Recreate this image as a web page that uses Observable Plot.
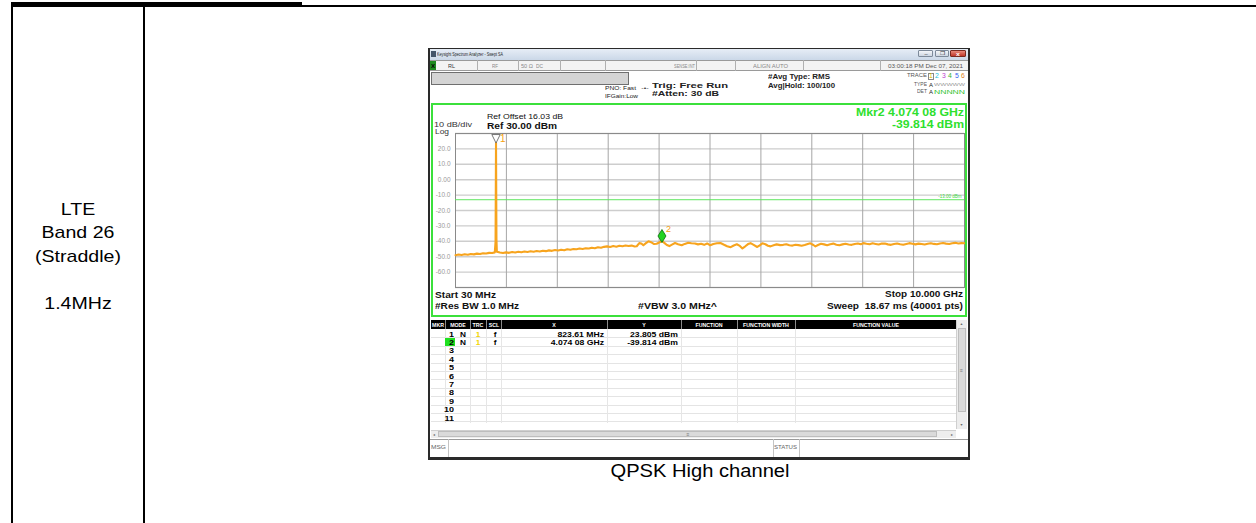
<!DOCTYPE html>
<html><head><meta charset="utf-8">
<script src="https://cdn.jsdelivr.net/npm/d3@7"></script>
<script src="https://cdn.jsdelivr.net/npm/@observablehq/plot@0.6"></script>
<style>
html,body{margin:0;padding:0;background:#fff;}
#page{position:relative;width:1256px;height:523px;overflow:hidden;background:#fff;}
</style></head>
<body><div id="page"></div>
<script>
// ---------------- data ----------------
const cellLines = ["LTE", "Band 26", "(Straddle)", "", "1.4MHz"];
const captionText = "QPSK High channel";
const startGHz = 0.03, stopGHz = 10.0;
const refDBm = 30, bottomDBm = -70;
const yDivs = [30, 20, 10, 0, -10, -20, -30, -40, -50, -60, -70];
const yTickValues = [20, 10, 0, -10, -20, -30, -40, -50, -60];
const yTickText = ["20.0", "10.0", "0.00", "-10.0", "-20.0", "-30.0", "-40.0", "-50.0", "-60.0"];
const xDivs = [0.03, 1.027, 2.024, 3.021, 4.018, 5.015, 6.012, 7.009, 8.006, 9.003, 10.0];
const displayLineDBm = -13;
const displayLineText = "-13.00 dBm";
const traceGHz = [0.03,0.09,0.15,0.21,0.27,0.33,0.39,0.45,0.51,0.57,0.63,0.69,0.75,0.80,0.815,0.82361,0.832,0.84,
 0.90,0.96,1.02,1.08,1.14,1.20,1.26,1.32,1.38,1.44,1.50,1.56,1.62,1.68,1.74,1.80,1.86,1.92,1.98,2.04,2.10,2.16,2.22,2.28,2.34,2.40,2.46,2.52,2.58,2.64,2.70,2.76,2.82,2.88,2.94,3.00,3.06,3.12,3.18,3.24,3.30,3.36,3.42,3.48,3.54,3.58,3.63,3.67,3.71,3.76,3.81,3.86,3.92,3.97,4.02,4.074,4.12,4.17,4.22,4.27,4.33,4.39,4.46,4.52,4.59,4.65,4.72,4.78,4.84,4.90,4.96,5.02,5.08,5.15,5.22,5.28,5.35,5.42,5.48,5.54,5.60,5.65,5.70,5.76,5.81,5.87,5.94,5.99,6.04,6.10,6.15,6.20,6.26,6.32,6.39,6.45,6.51,6.57,6.63,6.69,6.75,6.81,6.87,6.93,6.98,7.04,7.08,7.13,7.19,7.25,7.31,7.37,7.43,7.49,7.55,7.61,7.67,7.73,7.79,7.85,7.91,7.97,8.02,8.08,8.14,8.20,8.26,8.32,8.38,8.44,8.50,8.56,8.62,8.68,8.74,8.80,8.86,8.92,8.98,9.04,9.10,9.16,9.22,9.28,9.34,9.40,9.46,9.52,9.58,9.64,9.70,9.76,9.82,9.88,9.94,10.00];
const traceDBm = [-49.0,-48.6,-48.9,-48.4,-48.7,-48.2,-48.5,-48.0,-48.3,-47.8,-47.9,-47.5,-47.6,-47.2,-40.0,23.805,-38.5,-46.8,
 -47.3,-47.6,-47.2,-47.5,-47.0,-47.3,-46.8,-47.1,-46.6,-46.9,-46.5,-46.8,-46.3,-46.6,-46.1,-46.4,-45.9,-46.2,-45.7,-46.0,-45.5,-45.8,-45.2,-45.5,-45.0,-45.2,-44.7,-45.0,-44.5,-44.7,-44.2,-44.5,-43.9,-44.2,-43.6,-43.3,-43.7,-43.1,-43.5,-42.9,-43.2,-42.7,-43.0,-42.8,-43.4,-43.2,-41.2,-41.4,-42.6,-41.2,-40.0,-40.6,-41.8,-41.6,-40.8,-39.814,-41.0,-42.4,-43.1,-42.2,-41.1,-41.9,-42.6,-41.7,-40.9,-41.3,-41.4,-42.0,-41.6,-42.3,-41.4,-42.6,-41.8,-41.3,-41.1,-42.1,-43.2,-43.8,-42.7,-41.9,-43.0,-44.6,-43.4,-41.8,-41.2,-42.3,-43.7,-42.6,-41.3,-41.9,-42.9,-43.3,-42.6,-42.0,-42.5,-42.3,-41.9,-42.6,-42.8,-42.2,-42.5,-42.9,-42.4,-41.8,-41.3,-42.4,-43.3,-42.4,-41.6,-42.0,-42.5,-41.9,-41.5,-42.2,-42.6,-42.0,-41.6,-42.1,-42.3,-41.7,-41.4,-41.9,-41.2,-41.6,-41.9,-41.3,-41.7,-42.1,-41.5,-41.4,-42.0,-42.3,-41.8,-41.4,-41.9,-42.2,-41.7,-41.2,-41.6,-42.0,-41.5,-41.8,-42.1,-41.6,-41.3,-41.7,-41.9,-41.4,-41.1,-41.5,-41.8,-41.3,-41.0,-41.4,-41.2,-41.3];
const markerGHz = [0.82361, 4.07408];
const markerDBm = [23.805, -39.814];
const markerNames = ["1", "2"];
const markerMode = ["N", "N"];
const markerTrace = ["1", "1"];
const markerScale = ["f", "f"];
const markerXText = ["823.61 MHz", "4.074 08 GHz"];
const markerYText = ["23.805 dBm", "-39.814 dBm"];
const tableRows = ["1","2","3","4","5","6","7","8","9","10","11"];
const headerCols = ["MKR","MODE","TRC","SCL","X","Y","FUNCTION","FUNCTION WIDTH","FUNCTION VALUE"];
const traceNums = ["1","2","3","4","5","6"];
const traceNumColors = ["#d8b800","#18c0e0","#c040d0","#30b030","#3060f0","#e08020"];

// ---------------- helpers ----------------
const W = document.getElementById("page");
const FONT = "'Liberation Sans', Arial, sans-serif";
function el(css, text) {
  const e = document.createElement("div");
  e.style.cssText = "position:absolute;" + css;
  if (text != null) e.textContent = text;
  W.appendChild(e);
  return e;
}
function rect(x, y, w, h, css = "") {
  return el(`left:${x}px;top:${y}px;width:${w}px;height:${h}px;box-sizing:border-box;${css}`);
}
function txt(x, base, s, size, o = {}) {
  const anchor = o.anchor || "start", weight = o.weight || "normal", color = o.color || "#000";
  let pos, origin, align;
  if (anchor === "start") { pos = `left:${x}px;`; origin = "0 0"; align = "left"; }
  else if (anchor === "end") { pos = `left:${x - 1000}px;width:1000px;`; origin = "100% 0"; align = "right"; }
  else { pos = `left:${x - 500}px;width:1000px;`; origin = "50% 0"; align = "center"; }
  const e = el(`${pos}top:${base - 0.8465 * size}px;font-family:${FONT};font-size:${size}px;font-weight:${weight};line-height:1;white-space:nowrap;color:${color};text-align:${align};${o.css || ""}`);
  const sp = document.createElement("span");
  sp.textContent = s;
  e.appendChild(sp);
  let sx = o.sx ?? 1.15;
  if (o.w) { const nat = sp.getBoundingClientRect().width; if (nat > 0) sx = o.w / nat; }
  e.style.transform = `scaleX(${sx})`;
  e.style.transformOrigin = origin;
  return e;
}

// ---------------- document table ----------------
rect(11, 2, 291, 5, "background:#000;");
rect(301, 5, 955, 2, "background:#000;");
rect(11, 2, 2, 521, "background:#000;");
rect(143, 6, 2, 517, "background:#000;");
const cellBase = [215, 238.5, 262, 285.5, 309];
cellLines.forEach((s, i) => { if (s) txt(78, cellBase[i], s, 17, {anchor: "middle"}); });
txt(700, 478, captionText, 17.5, {anchor: "middle"});

// ---------------- analyzer window ----------------
rect(428, 48, 542, 412, "background:#fff;border-left:2px solid #2a2a2a;border-right:2px solid #2a2a2a;border-top:1px solid #2a2a2a;border-bottom:3px solid #2a2a2a;");
rect(430, 49, 538, 11, "background:linear-gradient(#e6edf6,#cbd8e8);");
rect(431, 51, 5, 6, "background:#44556a;");
txt(437, 56.3, "Keysight Spectrum Analyzer - Swept SA", 5, {w: 66, color: "#222"});
rect(918, 50, 15, 7, "background:linear-gradient(#f4f6f9,#cdd6e2);border:1px solid #7d8a9a;border-radius:1px;");
rect(935, 50, 14, 7, "background:linear-gradient(#f4f6f9,#cdd6e2);border:1px solid #7d8a9a;border-radius:1px;");
rect(950, 50, 16, 7, "background:linear-gradient(#e88a7c,#c0382a);border:1px solid #7a2a20;border-radius:1px;");
txt(925.5, 56, "–", 5, {anchor: "middle", color: "#333"});
txt(942, 56, "❐", 4.5, {anchor: "middle", color: "#333"});
txt(958, 56.3, "x", 6, {anchor: "middle", color: "#fff", weight: "bold"});
// status row
rect(430, 60, 538, 11, "background:#f3f3f3;border-top:1px solid #9a9a9a;border-bottom:1px solid #9a9a9a;");
[477, 518, 560, 605, 696, 735, 803, 880].forEach(x => rect(x, 60, 1, 11, "background:#b0b0b0;"));
rect(430, 61, 6, 9, "background:#1e8a1e;");
txt(433, 68.5, "X", 6, {anchor: "middle", weight: "bold", sx: 1});
txt(448, 68.5, "RL", 5.3, {w: 7, color: "#333"});
txt(492, 68.5, "RF", 5, {w: 6, color: "#888"});
txt(521, 68.5, "50 Ω", 5, {w: 12, color: "#888"});
txt(536, 68.5, "DC", 5, {w: 7, color: "#888"});
txt(674, 68.5, "SENSE:INT", 5, {w: 21, color: "#888"});
txt(753, 68.5, "ALIGN AUTO", 5, {w: 35, color: "#888"});
txt(963, 68.5, "03:00:18 PM Dec 07, 2021", 5, {anchor: "end", w: 75, color: "#555"});
// info row
rect(431, 72, 198, 13, "background:#d4d4d4;border:1px solid #6f6f6f;");
txt(605, 91, "PNO: Fast", 5.8, {w: 31, color: "#222"});
txt(605, 99, "IFGain:Low", 5.8, {w: 33, color: "#222"});
txt(645, 90.5, "-•-", 6, {anchor: "middle", color: "#333", sx: 1.2});
txt(652, 88, "Trig: Free Run", 7, {w: 76, weight: "bold", color: "#222"});
txt(652, 95.5, "#Atten: 30 dB", 7, {w: 67, weight: "bold", color: "#222"});
txt(768, 78.5, "#Avg Type: RMS", 7, {w: 62, weight: "bold", color: "#222"});
txt(768, 87.5, "Avg|Hold: 100/100", 7, {w: 67, weight: "bold", color: "#222"});
txt(927, 78, "TRACE", 4.5, {anchor: "end", w: 20, color: "#555"});
txt(927, 87, "TYPE", 4.5, {anchor: "end", w: 13, color: "#555"});
txt(927, 94, "DET", 4.5, {anchor: "end", w: 10, color: "#555"});
rect(928, 72.5, 6, 7, "border:1px solid #888;");
const tnX = [931, 937, 943.5, 950, 956.5, 963];
traceNums.forEach((s, i) => txt(tnX[i], 78.5, s, 6.5, {anchor: "middle", color: traceNumColors[i], sx: 1.05}));
txt(931, 87, "A", 6, {anchor: "middle", color: "#222", sx: 1});
txt(934, 86.5, "WWWWW", 4, {w: 31, color: "#999"});
txt(931, 94, "A", 6, {anchor: "middle", color: "#222", sx: 1});
txt(934, 94, "NNNNN", 6, {w: 31, color: "#2cc02c"});

// ---------------- spectrum plot ----------------
const traceData = traceGHz.map((f, i) => ({f, v: traceDBm[i]}));
const mk = markerGHz.map((f, i) => ({f, v: markerDBm[i], n: markerNames[i]}));
const downTri = {draw(ctx) { ctx.moveTo(-4.2, -8.5); ctx.lineTo(4.2, -8.5); ctx.lineTo(0, 0); ctx.closePath(); }};
const tallDiamond = {draw(ctx) { ctx.moveTo(0, -6.5); ctx.lineTo(4, 0); ctx.lineTo(0, 6.5); ctx.lineTo(-4, 0); ctx.closePath(); }};
const chart = Plot.plot({
  width: 536, height: 214,
  marginLeft: 24, marginRight: 3, marginTop: 30, marginBottom: 30,
  x: {domain: [startGHz, stopGHz], axis: null},
  y: {domain: [bottomDBm, refDBm], label: null},
  style: {background: "transparent", fontFamily: FONT, overflow: "visible"},
  marks: [
    Plot.ruleY(yDivs, {stroke: "#cdcdcd", strokeWidth: 1.4}),
    Plot.ruleX(xDivs, {stroke: "#a6a6a6", strokeWidth: 1}),
    Plot.frame({stroke: "#8a8a8a"}),
    Plot.axisY({ticks: yTickValues, tickFormat: d => yTickText[yTickValues.indexOf(d)], tickSize: 0, tickPadding: 5, fontSize: 6.5, color: "#9a9a9a", label: null}),
    Plot.ruleY([displayLineDBm], {stroke: "#5fe65f", strokeWidth: 1}),
    Plot.text([displayLineDBm], {x: () => stopGHz, y: d => d, text: () => displayLineText, textAnchor: "end", dx: -3, dy: -3, fontSize: 4.5, fill: "#3fd83f"}),
    Plot.line(traceData, {x: "f", y: "v", stroke: "#f7a41e", strokeWidth: 2.1, strokeLinejoin: "round"}),
    Plot.dot([mk[0]], {x: "f", y: "v", symbol: downTri, fill: "white", stroke: "#555", strokeWidth: 0.8}),
    Plot.text([mk[0]], {x: "f", y: "v", text: "n", dx: 4, dy: -4.5, textAnchor: "start", fill: "#f5a010", fontSize: 10}),
    Plot.dot([mk[1]], {x: "f", y: "v", symbol: tallDiamond, fill: "#22d422", stroke: "#0c6a0c", strokeWidth: 0.8, dy: -5}),
    Plot.text([mk[1]], {x: "f", y: "v", text: "n", dx: 4, dy: -12, textAnchor: "start", fill: "#f5a010", fontSize: 9})
  ]
});
const holder = rect(431, 103, 536, 214, "");
holder.appendChild(chart);
rect(431, 103, 536, 214, "border:2px solid #3be03b;");
// display annotations
txt(434, 126.5, "10 dB/div", 7, {w: 38, color: "#333"});
txt(435, 133.5, "Log", 7, {w: 14, color: "#333"});
txt(487, 119.3, "Ref Offset 16.03 dB", 7.5, {w: 76, color: "#111"});
txt(487, 129.3, "Ref 30.00 dBm", 9, {w: 70, weight: "bold", color: "#111"});
txt(964, 116, "Mkr2 " + markerXText[1], 10.7, {anchor: "end", w: 108, weight: "bold", color: "#2ee02e"});
txt(964, 128.3, markerYText[1], 10.7, {anchor: "end", w: 72, weight: "bold", color: "#2ee02e"});
txt(435, 298.3, "Start 30 MHz", 9, {w: 61, weight: "bold", color: "#111"});
txt(435, 310, "#Res BW 1.0 MHz", 9, {w: 84, weight: "bold", color: "#111"});
txt(638, 310, "#VBW 3.0 MHz^", 9, {w: 79, weight: "bold", color: "#111"});
txt(963, 297.7, "Stop 10.000 GHz", 9, {anchor: "end", w: 78, weight: "bold", color: "#111"});
txt(963, 310, "Sweep  18.67 ms (40001 pts)", 9, {anchor: "end", w: 136, weight: "bold", color: "#111", css: "white-space:pre;"});

// ---------------- marker table ----------------
const colEdges = [431, 445, 470, 486, 501, 607, 681, 737, 795, 956];
rect(431, 320, 525, 9, "background:#000;");
colEdges.slice(1, -1).forEach(x => rect(x, 320, 1, 9, "background:#8a8a8a;"));
headerCols.forEach((h, i) => txt((colEdges[i] + colEdges[i + 1]) / 2, 327, h, 5, {anchor: "middle", color: "#fff", weight: "bold", sx: 1.05}));
const rowTop0 = 329.5, rowH = 8.4;
tableRows.forEach((r, i) => rect(431, rowTop0 + (i + 1) * rowH - 0.5, 525, 1, "background:#e4e4e4;"));
colEdges.slice(1, -1).forEach(x => rect(x, 329, 1, 94, "background:#e6e6e6;"));
rect(445, rowTop0 + rowH + 0.3, 10, 7.6, "background:#1fe01f;");
tableRows.forEach((r, i) => {
  const b = rowTop0 + i * rowH + 7.4;
  txt(454, b, r, 7.5, {anchor: "end", weight: "bold", sx: 1.2});
  if (i < markerMode.length) {
    txt(462.5, b, markerMode[i], 7.5, {anchor: "middle", weight: "bold", sx: 1.1});
    txt(478, b, markerTrace[i], 7.5, {anchor: "middle", weight: "bold", color: "#f2d400", sx: 1.1});
    txt(494.5, b, markerScale[i], 7.5, {anchor: "middle", weight: "bold", sx: 1.1});
    txt(604, b, markerXText[i], 7.5, {anchor: "end", weight: "bold"});
    txt(678, b, markerYText[i], 7.5, {anchor: "end", weight: "bold"});
  }
});
// scrollbars
rect(956, 320, 11, 109, "background:#ededed;border-left:1px solid #cfcfcf;");
rect(957.5, 328, 8, 84, "background:#dadada;border:1px solid #bdbdbd;");
txt(961.5, 325.5, "▲", 3.5, {anchor: "middle", color: "#666", sx: 1});
txt(961.5, 427, "▼", 3.5, {anchor: "middle", color: "#666", sx: 1});
txt(961.5, 372, "≡", 5, {anchor: "middle", color: "#777", sx: 1});
rect(431, 429.5, 525, 8.5, "background:#ededed;border-top:1px solid #cfcfcf;");
rect(438, 430.5, 499, 6.5, "background:#dadada;border:1px solid #bdbdbd;");
txt(434, 436, "◂", 4, {anchor: "middle", color: "#666", sx: 1});
txt(951.5, 436, "▸", 4, {anchor: "middle", color: "#666", sx: 1});
txt(688, 436, "≡", 5, {anchor: "middle", color: "#777", sx: 1});
// message bar
rect(430, 439, 538, 18, "background:#fff;border-top:1px solid #9a9a9a;");
[448, 773, 799].forEach(x => rect(x, 439, 1, 18, "background:#c4c4c4;"));
txt(431, 450, "MSG", 4.5, {w: 15, color: "#666"});
txt(774, 450, "STATUS", 4.5, {w: 23, color: "#666"});
</script>
</body></html>
